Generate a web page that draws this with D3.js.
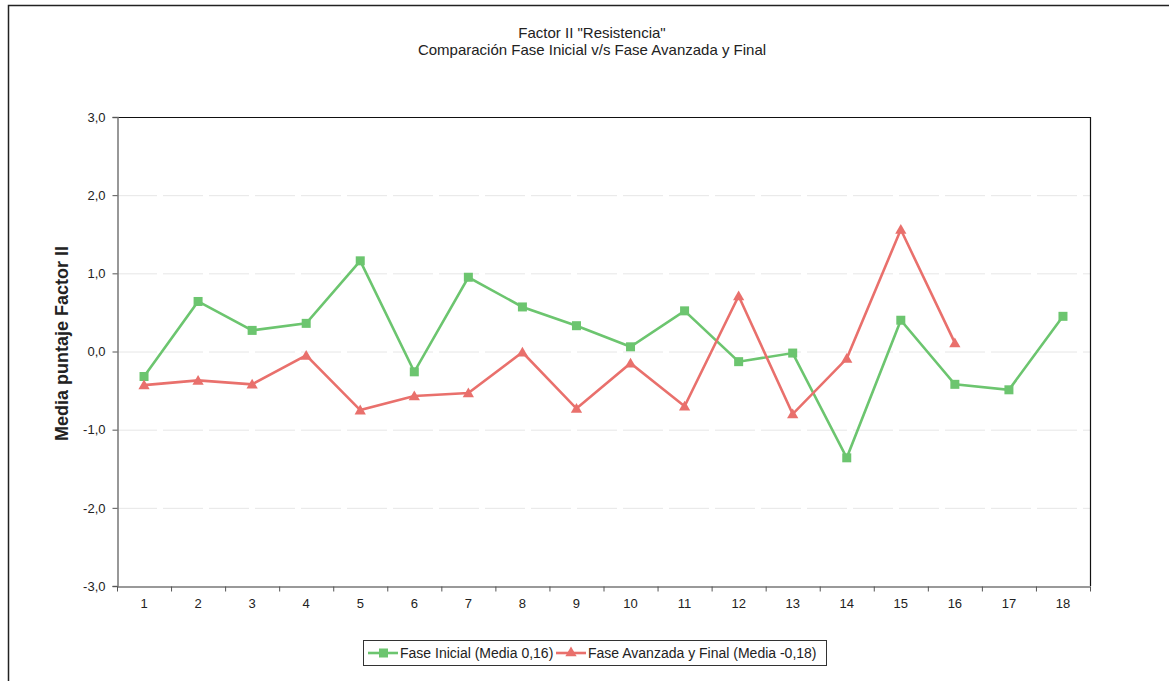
<!DOCTYPE html>
<html>
<head>
<meta charset="utf-8">
<script src="https://cdn.jsdelivr.net/npm/d3@7/dist/d3.min.js"></script>
<style>
  html, body { margin: 0; padding: 0; background: #fff; }
  svg { display: block; font-family: "Liberation Sans", Arial, sans-serif; }
</style>
</head>
<body>
<svg id="chart" width="1169" height="681"></svg>
<script>
// Categories (items 1..18) and mean score per phase
const categories = ["1","2","3","4","5","6","7","8","9","10","11","12","13","14","15","16","17","18"];
const faseInicial = [-0.32, 0.64, 0.27, 0.36, 1.16, -0.26, 0.95, 0.57, 0.33, 0.06, 0.52, -0.13, -0.02, -1.36, 0.40, -0.42, -0.49, 0.45];
const faseAvanzada = [-0.43, -0.37, -0.42, -0.05, -0.75, -0.57, -0.53, -0.01, -0.73, -0.15, -0.70, 0.71, -0.80, -0.09, 1.56, 0.11];
const yTicks = [-3, -2, -1, 0, 1, 2, 3];
const titleLines = ['Factor II "Resistencia"', 'Comparación Fase Inicial v/s Fase Avanzada y Final'];
const legendLabels = ["Fase Inicial (Media 0,16)", "Fase Avanzada y Final (Media -0,18)"];

const svg = d3.select("#chart");
const plot = { left: 117, right: 1090, top: 117, bottom: 586 };
const green = "#6cc56f", red = "#e9706c";

// outer chart frame (only left and top edges fall inside the page)
svg.append("path")
  .attr("d", "M8.5,681 V5.5 H1169")
  .attr("fill", "none").attr("stroke", "#222").attr("stroke-width", 1.5);

const x = d3.scaleBand().domain(categories).range([plot.left, plot.right]);
const y = d3.scaleLinear().domain([-3, 3]).range([plot.bottom, plot.top]);
// decimal comma and plain hyphen for negatives
const fmt = d => d3.format(".1f")(d).replace(".", ",").replace("\u2212", "-");

// faint horizontal gridlines
svg.append("g").selectAll("line")
  .data(yTicks.filter(d => d > -3 && d < 3))
  .join("line")
  .attr("x1", plot.left).attr("x2", plot.right)
  .attr("y1", d => y(d) + 0.5).attr("y2", d => y(d) + 0.5)
  .attr("stroke", "#e6e6e6").attr("stroke-width", 1)
  .attr("stroke-dasharray", "40,6");

// plot frame: top and right edges
svg.append("path")
  .attr("d", `M${plot.left},${plot.top + 0.5} H${plot.right + 0.5} V${plot.bottom}`)
  .attr("fill", "none").attr("stroke", "#111").attr("stroke-width", 1.2);

// y axis
const yAxis = svg.append("g")
  .attr("transform", `translate(${plot.left + 0.5},0)`)
  .call(d3.axisLeft(y).tickValues(yTicks).tickFormat(fmt).tickSize(5).tickPadding(7));
yAxis.select(".domain").attr("stroke", "#777").attr("stroke-width", 1.5);
yAxis.selectAll(".tick line").attr("stroke", "#555");
yAxis.selectAll("text").attr("font-size", 13).attr("fill", "#222")
  .attr("font-family", "Liberation Sans, Arial, sans-serif");

// x axis with ticks between categories
const xAxis = svg.append("g")
  .attr("transform", `translate(0,${plot.bottom + 0.5})`)
  .call(d3.axisBottom(x).tickSize(0).tickPadding(12));
xAxis.select(".domain").attr("stroke", "#777").attr("stroke-width", 1.5);
xAxis.selectAll("text").attr("font-size", 13).attr("fill", "#222")
  .attr("font-family", "Liberation Sans, Arial, sans-serif");
xAxis.selectAll(".boundary")
  .data(d3.range(categories.length + 1))
  .join("line")
  .attr("class", "boundary")
  .attr("x1", i => plot.left + i * x.step() + 0.5)
  .attr("x2", i => plot.left + i * x.step() + 0.5)
  .attr("y1", 0).attr("y2", 5)
  .attr("stroke", "#555");

// titles
svg.append("g").selectAll("text")
  .data(titleLines)
  .join("text")
  .attr("x", 592).attr("y", (d, i) => 38 + i * 17)
  .attr("text-anchor", "middle")
  .attr("font-size", 15).attr("fill", "#222")
  .text(d => d);

// y axis title
svg.append("text")
  .attr("transform", `translate(68,${(plot.top + plot.bottom) / 2 - 8}) rotate(-90)`)
  .attr("text-anchor", "middle")
  .attr("font-size", 18).attr("font-weight", "bold").attr("fill", "#222")
  .text("Media puntaje Factor II");

const cx = i => x(categories[i]) + x.bandwidth() / 2;
const line = d3.line().x((d, i) => cx(i)).y(d => y(d));
const triangle = d3.symbol().type(d3.symbolTriangle).size(55);

function drawSeries(values, color, marker) {
  const g = svg.append("g");
  g.append("path").datum(values)
    .attr("d", line)
    .attr("fill", "none").attr("stroke", color).attr("stroke-width", 2.6)
    .attr("stroke-linejoin", "miter");
  if (marker === "square") {
    g.selectAll("rect").data(values).join("rect")
      .attr("x", (d, i) => cx(i) - 4.5).attr("y", d => y(d) - 4.5)
      .attr("width", 9).attr("height", 9).attr("fill", color);
  } else {
    g.selectAll("path.m").data(values).join("path")
      .attr("class", "m")
      .attr("transform", (d, i) => `translate(${cx(i)},${y(d) + 1})`)
      .attr("d", triangle).attr("fill", color);
  }
}
drawSeries(faseInicial, green, "square");
drawSeries(faseAvanzada, red, "triangle");

// legend
const lg = svg.append("g");
lg.append("rect")
  .attr("x", 363.5).attr("y", 640.5).attr("width", 463).attr("height", 25)
  .attr("fill", "#fff").attr("stroke", "#333").attr("stroke-width", 1);
const items = [
  { label: legendLabels[0], color: green, marker: "square", x0: 368 },
  { label: legendLabels[1], color: red, marker: "triangle", x0: 556 }
];
items.forEach(it => {
  const ly = 653;
  lg.append("line").attr("x1", it.x0).attr("x2", it.x0 + 30)
    .attr("y1", ly).attr("y2", ly)
    .attr("stroke", it.color).attr("stroke-width", 2.6);
  if (it.marker === "square") {
    lg.append("rect").attr("x", it.x0 + 11).attr("y", ly - 4.5)
      .attr("width", 9).attr("height", 9).attr("fill", it.color);
  } else {
    lg.append("path").attr("transform", `translate(${it.x0 + 15},${ly})`)
      .attr("d", triangle).attr("fill", it.color);
  }
  lg.append("text").attr("x", it.x0 + 32).attr("y", ly + 5)
    .attr("font-size", 14).attr("fill", "#222").text(it.label);
});
</script>
</body>
</html>
